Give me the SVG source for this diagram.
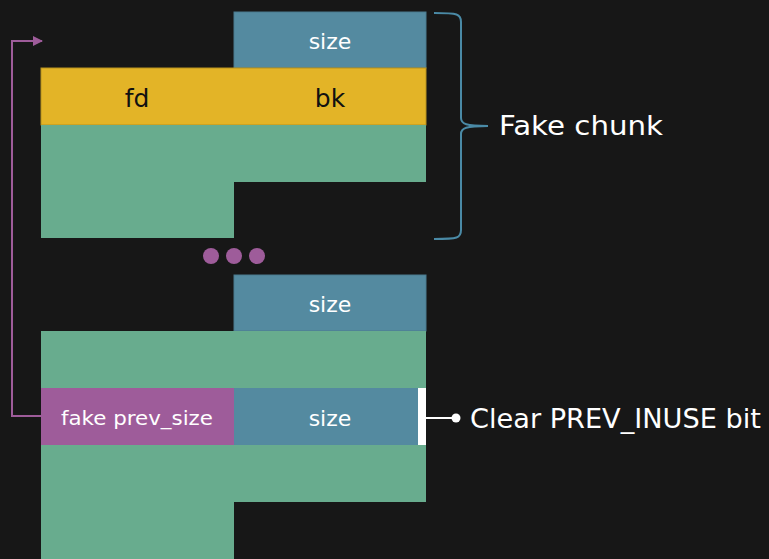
<svg xmlns="http://www.w3.org/2000/svg" width="769" height="559" viewBox="0 0 769 559">
<defs>
<style>
.blue{fill:#548aa0;stroke:#4a7a8e;stroke-width:1}
.yel{fill:#e3b427;stroke:#b8921f;stroke-width:1}
.grn{fill:#68ac8e}
.pur{fill:#9e5c9a}
.t{font-family:"DejaVu Sans","Liberation Sans",sans-serif;text-anchor:middle;dominant-baseline:central}
.w{fill:#ffffff}
.k{fill:#111111}
.lbl{font-family:"DejaVu Sans","Liberation Sans",sans-serif;fill:#ffffff;font-size:26px;dominant-baseline:central}
</style>
<marker id="arr" viewBox="0 0 10 10" refX="9" refY="5" markerWidth="5" markerHeight="5" orient="auto">
<path d="M0,0 L10,5 L0,10 z" fill="#9e5c9a"/>
</marker>
</defs>
<rect width="769" height="559" fill="#171717"/>
<g id="fake-chunk">
<rect id="top-size" class="blue" x="234" y="12" width="192" height="56"/>
<text class="t w" x="330" y="41" font-size="22">size</text>
<rect id="fdbk" class="yel" x="41" y="68" width="385" height="57"/>
<text class="t k" x="137" y="98" font-size="25">fd</text>
<text class="t k" x="330" y="98" font-size="25">bk</text>
<path class="grn" d="M41,125 H426 V182 H234 V238 H41 Z"/>
</g>
<g id="dots" class="pur">
<circle cx="211" cy="256" r="8"/>
<circle cx="234" cy="256" r="8"/>
<circle cx="257" cy="256" r="8"/>
</g>
<g id="real-chunk">
<rect class="blue" x="234" y="275" width="192" height="56"/>
<text class="t w" x="330" y="304" font-size="22">size</text>
<rect class="grn" x="41" y="331" width="385" height="57"/>
<rect class="pur" x="41" y="388" width="193" height="57"/>
<text class="t w" x="137" y="418" font-size="20" textLength="152" lengthAdjust="spacingAndGlyphs">fake prev_size</text>
<rect fill="#548aa0" x="234" y="388" width="184" height="57"/>
<rect fill="#ffffff" x="418" y="388" width="8" height="57"/>
<text class="t w" x="330" y="418" font-size="22">size</text>
<path class="grn" d="M41,445 H426 V502 H234 V559 H41 Z"/>
</g>
<g id="connectors" fill="none">
<path d="M41,416 H12 V41 H42" stroke="#9e5c9a" stroke-width="2" marker-end="url(#arr)"/>
<path d="M434,13 C458,13 461,14 461,22 V118 C461,124 466,126 488,126 C466,126 461,128 461,134 V230 C461,238 458,239 434,239" stroke="#4a8aa6" stroke-width="2"/>
<line x1="426" y1="418" x2="456" y2="418" stroke="#ffffff" stroke-width="2"/>
<circle cx="456" cy="418" r="4.5" fill="#ffffff"/>
</g>
<g id="labels">
<text class="lbl" x="499" y="126" textLength="164" lengthAdjust="spacingAndGlyphs">Fake chunk</text>
<text class="lbl" x="470" y="419" textLength="291" lengthAdjust="spacingAndGlyphs">Clear PREV_INUSE bit</text>
</g>
</svg>
